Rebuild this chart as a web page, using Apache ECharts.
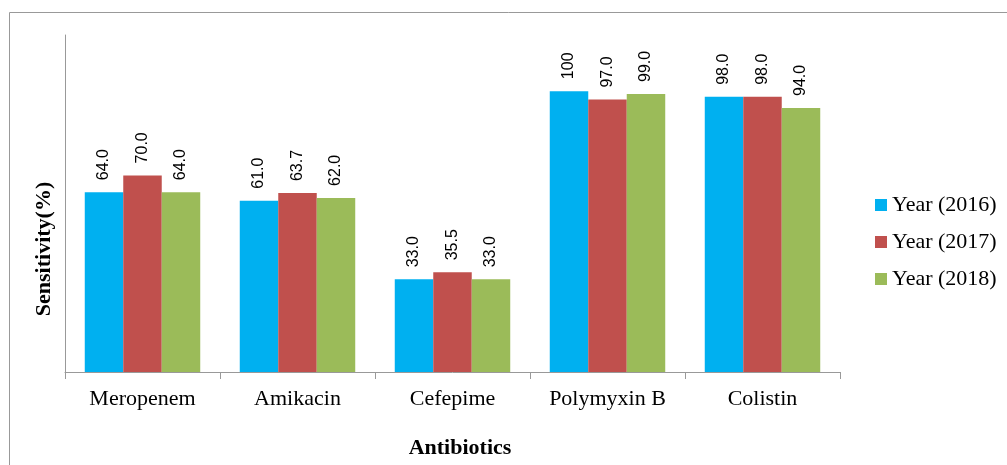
<!DOCTYPE html>
<html>
<head>
<meta charset="utf-8">
<script src="https://cdn.jsdelivr.net/npm/echarts@6/dist/echarts.min.js"></script>
<style>
  html, body { margin: 0; padding: 0; background: #fff; }
  #chart { width: 1007px; height: 465px; }
</style>
</head>
<body>
<div id="chart"></div>
<script>
// data
var antibiotics = ['Meropenem', 'Amikacin', 'Cefepime', 'Polymyxin B', 'Colistin'];
var seriesNames = ['Year (2016)', 'Year (2017)', 'Year (2018)'];
var year2016 = [64.0, 61.0, 33.0, 100, 98.0];
var year2017 = [70.0, 63.7, 35.5, 97.0, 98.0];
var year2018 = [64.0, 62.0, 33.0, 99.0, 94.0];
var colors = ['#00B0F0', '#C0504D', '#9BBB59'];

var serif = 'Liberation Serif';

function barSeries(name, data, color) {
    return {
        name: name,
        type: 'bar',
        barGap: 0,
        barCategoryGap: '25.5%',
        data: data,
        itemStyle: { color: color },
        label: {
            show: true,
            position: 'top',
            rotate: 90,
            align: 'left',
            verticalAlign: 'middle',
            distance: 12,
            fontFamily: 'Liberation Sans',
            fontSize: 16,
            color: '#000',
            formatter: function (p) {
                return p.value === 100 ? '100' : p.value.toFixed(1);
            }
        }
    };
}

var chart = echarts.init(document.getElementById('chart'));
var option = {
    animation: false,
    color: colors,
    grid: {
        left: 65,
        top: 35,
        right: 167,
        bottom: 93,
        containLabel: false,
        outerBoundsMode: 'none'
    },
    legend: {
        orient: 'vertical',
        left: 875,
        top: 194,
        padding: 0,
        itemWidth: 12,
        itemHeight: 12,
        itemGap: 15,
        icon: 'rect',
        textStyle: { fontFamily: serif, fontSize: 22, color: '#000' },
        data: seriesNames
    },
    xAxis: {
        type: 'category',
        data: antibiotics,
        axisLine: { lineStyle: { color: '#999', width: 1 } },
        axisTick: { show: true, length: 7, lineStyle: { color: '#999' } },
        axisLabel: { fontFamily: serif, fontSize: 22, color: '#000', margin: 16 }
    },
    yAxis: {
        type: 'value',
        min: 0,
        max: 120,
        axisLine: { show: true, lineStyle: { color: '#999', width: 1 } },
        axisTick: { show: false },
        axisLabel: { show: false },
        splitLine: { show: false }
    },
    graphic: [
        {
            type: 'rect',
            shape: { x: 9.5, y: 12.5, width: 1100, height: 600 },
            style: { fill: 'none', stroke: '#999', lineWidth: 1 },
            silent: true
        },
        {
            type: 'text',
            x: 44,
            y: 249,
            rotation: Math.PI / 2,
            style: {
                text: 'Sensitivity(%)',
                font: 'bold 22px "Liberation Serif"',
                fill: '#000',
                align: 'center',
                verticalAlign: 'middle'
            }
        },
        {
            type: 'text',
            x: 460,
            y: 448,
            style: {
                text: 'Antibiotics',
                font: 'bold 22px "Liberation Serif"',
                fill: '#000',
                align: 'center',
                verticalAlign: 'middle'
            }
        }
    ],
    series: [
        barSeries(seriesNames[0], year2016, colors[0]),
        barSeries(seriesNames[1], year2017, colors[1]),
        barSeries(seriesNames[2], year2018, colors[2])
    ]
};
chart.setOption(option);
window.addEventListener('resize', function () {
    chart.resize();
});
</script>
</body>
</html>
